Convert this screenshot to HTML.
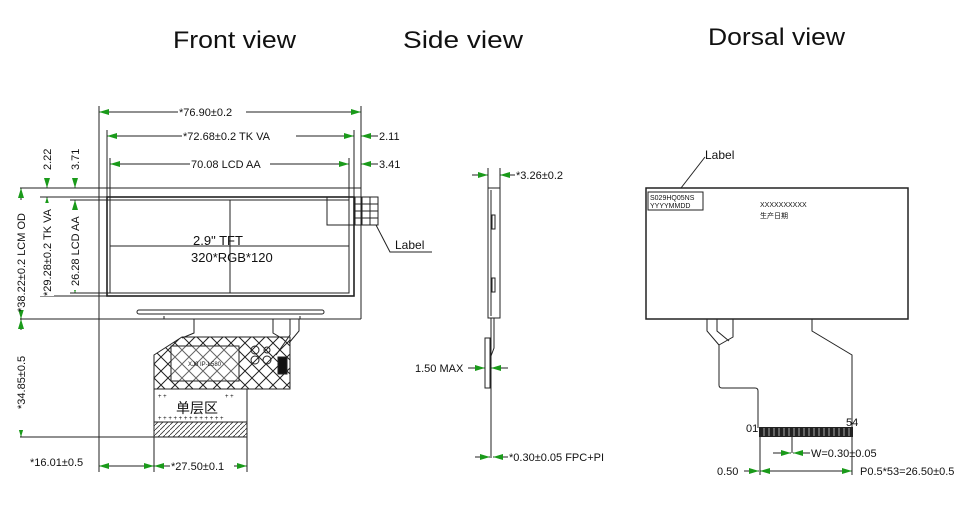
<!DOCTYPE html>
<html><head><meta charset="utf-8"><style>
html,body{margin:0;padding:0;background:#fff;width:969px;height:516px;overflow:hidden}
svg{display:block}
text{font-family:"Liberation Sans","Noto Sans CJK SC",sans-serif;fill:#111}
</style></head><body>
<svg width="969" height="516" viewBox="0 0 969 516" xmlns="http://www.w3.org/2000/svg">
<defs>
<marker id="a" viewBox="0 0 10 6" refX="10" refY="3" markerWidth="10" markerHeight="6" orient="auto-start-reverse" markerUnits="userSpaceOnUse"><path d="M0,0 L10,3 L0,6 Z" fill="#1a9a1a"/></marker>
<pattern id="xh" width="14" height="14" patternUnits="userSpaceOnUse"><path d="M0,0 L14,14 M14,0 L0,14" stroke="#222" stroke-width="1"/></pattern>
<pattern id="dh" width="5" height="5" patternUnits="userSpaceOnUse"><path d="M0,5 L5,0" stroke="#333" stroke-width="0.8"/></pattern>
</defs>
<g font-size="24">
<text x="173" y="48" textLength="123" lengthAdjust="spacingAndGlyphs">Front view</text>
<text x="403" y="48" textLength="120" lengthAdjust="spacingAndGlyphs">Side  view</text>
<text x="708" y="45" textLength="137" lengthAdjust="spacingAndGlyphs">Dorsal view</text>
</g>

<g stroke="#222" fill="none" stroke-width="1">
<line x1="99" y1="106" x2="99" y2="472"/>
<line x1="361" y1="106" x2="361" y2="319"/>
<line x1="20" y1="188" x2="361" y2="188"/>
<line x1="20" y1="319" x2="361" y2="319"/>
<line x1="107" y1="130" x2="107" y2="197"/>
<line x1="354" y1="130" x2="354" y2="197"/>
<line x1="110" y1="158" x2="110" y2="200"/>
<line x1="349" y1="158" x2="349" y2="200"/>
<rect x="107" y="197" width="247" height="99" stroke-width="1.6"/>
<rect x="110" y="200" width="239" height="93"/>
<line x1="230" y1="200" x2="230" y2="293"/>
<line x1="110" y1="246" x2="349" y2="246"/>
<line x1="40" y1="197" x2="107" y2="197"/>
<line x1="40" y1="296" x2="107" y2="296"/>
<line x1="70" y1="200" x2="110" y2="200"/>
<line x1="70" y1="293" x2="110" y2="293"/>
<rect x="137" y="310" width="187" height="4" rx="2"/>
<path d="M164,319 v-3 M300,319 v-3"/>
<rect x="327" y="197" width="51" height="28"/>
<path d="M355,197 v28 M362,197 v28 M370,197 v28 M355,204 h23 M355,211 h23 M355,218 h23"/>
<path d="M376,225 L390,252 L432,252"/>
<path d="M194,319 v14 l-12,5 M273,319 v14 l10,6 M290,319 v16 l-14,20 M299,319 v12 l-10,12"/>
<path d="M154,355 L182,337 L290,337 L290,389 L154,389 Z" fill="url(#xh)"/>
<rect x="171" y="346" width="68" height="35" fill="#fff" fill-opacity="0.3"/>
<circle cx="255" cy="350" r="4"/><circle cx="255" cy="360" r="4"/><circle cx="267" cy="360" r="4"/><circle cx="267" cy="350" r="3"/>
<rect x="278" y="357" width="9" height="17" fill="#111"/>
<rect x="154" y="389" width="93" height="33" fill="#fff"/>
<rect x="154" y="422" width="93" height="15" fill="url(#dh)"/>
<line x1="20" y1="437" x2="154" y2="437"/>
<line x1="154" y1="437" x2="154" y2="472"/>
<line x1="247" y1="437" x2="247" y2="472"/>

<line x1="488" y1="168" x2="488" y2="188"/><line x1="500" y1="168" x2="500" y2="188"/>
<rect x="488" y="188" width="12" height="130"/>
<line x1="491" y1="190" x2="491" y2="316"/>
<rect x="492" y="215" width="3" height="14"/>
<rect x="492" y="278" width="3" height="14"/>
<path d="M491,318 v140 M494,318 v30 l-3,8"/>
<rect x="485" y="338" width="5" height="50"/>

<rect x="646" y="188" width="262" height="131" stroke-width="1.5"/>
<rect x="648" y="192" width="55" height="18"/>
<path d="M681,188 L705,157"/>
<path d="M707,319 v12 l12,14 M717,319 v12 l12,10 M733,319 v18 l-14,8 M719,345 v40 q0,3 3,3 h33 q3,0 3,3 v37"/>
<path d="M812,319 v12 l40,24 v73"/>
<line x1="760" y1="437" x2="760" y2="475"/>
<line x1="852" y1="437" x2="852" y2="475"/>
<line x1="792" y1="437" x2="792" y2="453"/>
</g>
<rect x="759" y="427" width="94" height="10" fill="#222"/>
<g stroke="#fff" stroke-width="0.6">
<path d="M764,428v8M769,428v8M774,428v8M779,428v8M784,428v8M789,428v8M794,428v8M799,428v8M804,428v8M809,428v8M814,428v8M819,428v8M824,428v8M829,428v8M834,428v8M839,428v8M844,428v8M849,428v8"/>
</g>

<g stroke="#222" stroke-width="1" fill="none">
<line x1="99" y1="112" x2="361" y2="112" marker-start="url(#a)" marker-end="url(#a)"/>
<line x1="107" y1="136" x2="354" y2="136" marker-start="url(#a)" marker-end="url(#a)"/>
<line x1="361" y1="136" x2="378" y2="136" marker-start="url(#a)"/>
<line x1="110" y1="164" x2="349" y2="164" marker-start="url(#a)" marker-end="url(#a)"/>
<line x1="361" y1="164" x2="378" y2="164" marker-start="url(#a)"/>
<line x1="21" y1="188" x2="21" y2="319" marker-start="url(#a)" marker-end="url(#a)"/>
<line x1="21" y1="319" x2="21" y2="437" marker-start="url(#a)" marker-end="url(#a)"/>
<line x1="47" y1="197" x2="47" y2="296" marker-start="url(#a)" marker-end="url(#a)"/>
<line x1="47" y1="180" x2="47" y2="188" marker-end="url(#a)"/>
<line x1="75" y1="200" x2="75" y2="293" marker-start="url(#a)" marker-end="url(#a)"/>
<line x1="75" y1="180" x2="75" y2="188" marker-end="url(#a)"/>
<line x1="99" y1="466" x2="154" y2="466" marker-start="url(#a)" marker-end="url(#a)"/>
<line x1="154" y1="466" x2="247" y2="466" marker-start="url(#a)" marker-end="url(#a)"/>
<line x1="472" y1="175" x2="488" y2="175" marker-end="url(#a)"/>
<line x1="515" y1="175" x2="500" y2="175" marker-end="url(#a)"/>
<line x1="468" y1="368" x2="485" y2="368" marker-end="url(#a)"/>
<line x1="508" y1="368" x2="491" y2="368" marker-end="url(#a)"/>
<line x1="475" y1="457" x2="490" y2="457" marker-end="url(#a)"/>
<line x1="508" y1="457" x2="493" y2="457" marker-end="url(#a)"/>
<line x1="773" y1="453" x2="791" y2="453" marker-end="url(#a)"/>
<line x1="810" y1="453" x2="793" y2="453" marker-end="url(#a)"/>
<line x1="744" y1="471" x2="759" y2="471" marker-end="url(#a)"/>
<line x1="760" y1="471" x2="852" y2="471" marker-start="url(#a)" marker-end="url(#a)"/>
</g>

<g font-size="11">
<rect x="178" y="106" width="68" height="12" fill="#fff"/><text x="179" y="116">*76.90±0.2</text>
<rect x="182" y="130" width="114" height="12" fill="#fff"/><text x="183" y="140">*72.68±0.2 TK VA</text>
<rect x="190" y="158" width="80" height="12" fill="#fff"/><text x="191" y="168">70.08 LCD AA</text>
<text x="379" y="140">2.11</text>
<text x="379" y="168">3.41</text>
<text x="395" y="249" font-size="12">Label</text>
<text x="193" y="245" font-size="13">2.9" TFT</text>
<text x="191" y="262" font-size="13">320*RGB*120</text>
<text x="30" y="466">*16.01±0.5</text>
<rect x="170" y="460" width="64" height="12" fill="#fff"/><text x="171" y="470">*27.50±0.1</text>
<g>
<rect x="14" y="200" width="14" height="110" fill="#fff"/>
<text transform="translate(25,312) rotate(-90)">*38.22±0.2 LCM OD</text>
<rect x="14" y="330" width="14" height="100" fill="#fff"/>
<text transform="translate(25,409) rotate(-90)">*34.85±0.5</text>
<rect x="40" y="203" width="14" height="93" fill="#fff"/>
<text transform="translate(51,296) rotate(-90)">*29.28±0.2 TK VA</text>
<text transform="translate(51,170) rotate(-90)">2.22</text>
<rect x="68" y="210" width="14" height="80" fill="#fff"/>
<text transform="translate(79,286) rotate(-90)">26.28 LCD AA</text>
<text transform="translate(79,170) rotate(-90)">3.71</text>
</g>
<text x="516" y="179">*3.26±0.2</text>
<text x="415" y="372">1.50 MAX</text>
<text x="509" y="461">*0.30±0.05 FPC+PI</text>
<text x="705" y="159" font-size="12">Label</text>
<text x="746" y="432">01</text>
<text x="846" y="426">54</text>
<text x="811" y="457">W=0.30±0.05</text>
<text x="717" y="475">0.50</text>
<text x="860" y="475">P0.5*53=26.50±0.5</text>
</g>
<g font-size="7">
<text x="650" y="200">S029HQ05NS</text>
<text x="650" y="208">YYYYMMDD</text>
<text x="760" y="207">XXXXXXXXXX</text>
<text x="760" y="218">生产日期</text>
</g>
<text x="188" y="366" font-size="6" fill="#4a4">XJ0 IP-L580</text>
<text x="176" y="413" font-size="14" fill="#000">单层区</text>
<g font-size="6">
<text x="158" y="398">+ +</text><text x="225" y="398">+ +</text>
<text x="158" y="420">+ + + + + + + + + + + + +</text>
</g>
</svg>
</body></html>
